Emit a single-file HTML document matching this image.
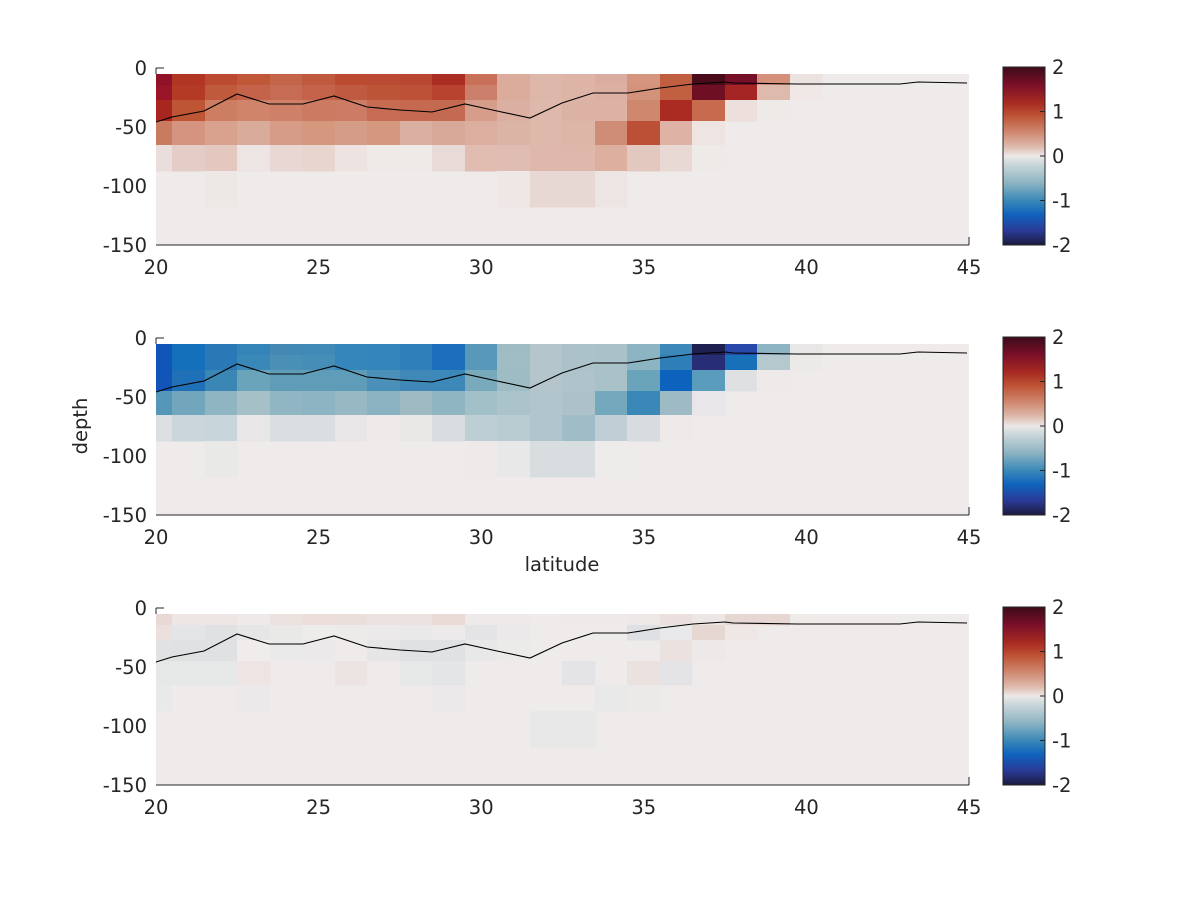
<!DOCTYPE html>
<html><head><meta charset="utf-8">
<style>
body{margin:0;background:#fff;}
svg text{font-family:"DejaVu Sans","Liberation Sans",sans-serif;font-size:19.5px;fill:#262626;}
</style></head><body>
<svg id="s" width="1200" height="900" xmlns="http://www.w3.org/2000/svg">
<defs>
<linearGradient id="cb" x1="0" y1="0" x2="0" y2="1">
<stop offset="0" stop-color="#3d0b1a"/>
<stop offset="0.1" stop-color="#7a0f28"/>
<stop offset="0.2" stop-color="#a82a22"/>
<stop offset="0.27" stop-color="#bd5132"/>
<stop offset="0.37" stop-color="#d08a72"/>
<stop offset="0.45" stop-color="#dfbcb0"/>
<stop offset="0.5" stop-color="#ece8e7"/>
<stop offset="0.56" stop-color="#c2d2d7"/>
<stop offset="0.65" stop-color="#8db4c2"/>
<stop offset="0.75" stop-color="#3a88b8"/>
<stop offset="0.83" stop-color="#0f62bd"/>
<stop offset="0.92" stop-color="#2a3a96"/>
<stop offset="1" stop-color="#1b1b3e"/>
</linearGradient>
</defs>
</svg>
<script>
const NS="http://www.w3.org/2000/svg",S=document.getElementById('s');
function el(t,a,txt){const e=document.createElementNS(NS,t);for(const k in a)e.setAttribute(k,a[k]);if(txt!==undefined)e.textContent=txt;S.appendChild(e);return e;}
const BG="#efebea";
const cx=[156,172,205,237,270,302,335,367,400,432,465,497,530,562,595,627,660,692,725,757,790,822];
const ry=[74,85,100,121,145,171,207,245];
const P1=[
["#8f1228","#b03522","#bb4a30","#c05838","#c4654a","#c05a3e","#bb4a30","#ba4a33","#b84731","#ab2c22","#c87058","#dbab9c","#ddb7aa","#ddb4a6","#dbada0","#d5957e","#c05e40","#4a0c1a","#751028","#d4907a","#ece3e1"],
["#9a1528","#b33b25","#c05a3c","#c4624a","#c66c55","#c4624a","#c05a40","#bc5538","#bc5138","#b8432e","#cc7f6a","#dbab9c","#ddb7aa","#ddb4a6","#dcb0a2","#d3927a","#c06040","#6e0f24","#a52424","#ddbaac","#efe8e6"],
["#a82620","#be5535","#cd7e62","#d0846a","#cf8068","#cc7b62","#cc7c64","#c76c52","#c56a50","#c46a50","#d69e8a","#dbb0a2","#deb9ab","#dcb2a4","#ddb1a3","#ce886e","#ab2a22","#c86a4e","#ecdfdc","#eeeae8",BG],
["#c97b60","#d49480","#d8a28f","#d8ab9a","#d69c88","#d5987f","#d59c88","#d4987f","#dab0a2","#d8a898","#dbaea0","#dcb4a6","#deb8aa","#ddb6a8","#cf8c76","#bb5036","#dfb2a6","#eee5e3",BG,BG,BG],
["#eadedc","#e4cdc6","#e4c8bf","#ede5e3","#e8d7d3","#e8d5d0","#ede4e2","#eeeae8","#eeeae8","#e8dad6","#e0bcb1","#e0bdb2","#dfb8ab","#dfb8ab","#dcaf9e","#e3c8bf","#e8d9d5","#eeeae8",BG,BG,BG],
{2:"#ede8e5",11:"#eee7e6",12:"#e8d8d4",13:"#e8d8d4",14:"#ede5e3"},
{}];
const P2=[
["#1155b8","#1470ba","#2a78b6","#3584b8","#4489b4","#418ab7","#3586ba","#3384ba","#2f80b8","#1c70bb","#5898b8","#9fbcc4","#b4c6cc","#abc2c8","#a9c1c8","#8db4c2","#3c88b8","#1e2050","#2848aa","#8db4c2","#e8e6e6"],
["#1155b8","#1470ba","#2a78b6","#3a88b8","#4a8fb6","#468db7","#3586ba","#3384ba","#2f80b8","#1c70bb","#5898b8","#a0bcc4","#b4c6cc","#abc2c8","#a9c1c8","#8db4c2","#2e7eb8","#282e76","#1770b8","#b4c8ce","#ece9e9"],
["#1155b8","#2070b8","#3a86b4","#6aa4ba","#5e9cb8","#5e9cb8","#5e9cb8","#4a90b8","#3f88b8","#3c88b8","#79aabc","#9ebcc4","#b4c6cc","#aec4ca","#a8c2c8","#6aa4ba","#0c62bc","#5a9cbc","#dfe0e2","#eeeaea",BG],
["#5696b8","#71a6bc","#8fb4c2","#a6c0c8","#8fb6c2","#8db4c2","#98b8c4","#8bb2c0","#a0bac4","#8fb4c2","#a2c0c8","#abc4ca","#b0c6cc","#acc2c8","#74a8bc","#3a88b8","#9ebac4","#e8e6e8",BG,BG,BG],
["#dcdfe1","#cbd5dc","#c8d5da","#e8e6e7","#d9dee1","#d9dee1","#e8e6e7","#eeeae9","#eae8e6","#d9dde0","#bdcfd4","#b9ccd2","#b0c6cc","#a0bcc6","#bfcfd5","#d6dcdf","#eeeaea",BG,BG,BG,BG],
{2:"#e9e9e8",10:"#edeae9",11:"#e9e8e8",12:"#d8dde0",13:"#d8dde0",14:"#eeebeb"},
{}];
const P3=[
["#ead8d4","#eee6e4","#ede6e5","#eeeae9","#ece2e0","#ebdedb","#ebdfdc","#ece2e0","#ece2e0","#e9dad6","#eeeae9","#eeeae9",BG,"#eeeae9","#eeeae9","#eee8e7","#ebe0de","#ece6e5","#e7d7d3","#e7d7d3","#eeebe9"],
{0:"#ece0de",1:"#e4e5e7",2:"#dfe1e3",3:"#e6e6e7",4:"#e9e9e8",5:"#eeecea",6:"#ecebea",7:"#ebe9e9",8:"#e9e9e9",9:"#eceaea",10:"#e4e4e6",11:"#ebe9e9",15:"#dfe0e3",16:"#e9e8ea",17:"#e7d7d3",18:"#eee7e5"},
{0:"#e0e2e4",1:"#dfe1e3",2:"#dfe1e3",3:"#f0eceb",4:"#eaeaea",5:"#ebe9e9",7:"#e6e6e7",8:"#dfe1e3",9:"#dfe1e3",10:"#e8e8e9",11:"#ebebea",16:"#ebe1df",17:"#ece9e8"},
{0:"#e6e8e7",1:"#e6e8e7",2:"#e6e8e7",3:"#ede4e3",6:"#ece4e3",8:"#e6e7e7",9:"#e4e5e7",13:"#e4e4e6",15:"#ebe1df",16:"#e4e4e6"},
{0:"#e8e9e9",3:"#ebe9e9",9:"#ebe9e9",14:"#e8e9e8",15:"#ebeae9"},
{12:"#e9e8e8",13:"#e7e8e7"},
{}];
const line=[[156,122],[172,117],[204,111],[237,94],[269,104],[303,104],[334,96],[367,107],[400,110],[432,112],[465,104],[497,111],[530,118],[562,103],[593,93],[628,93],[660,88],[693,84],[725,82],[733,83],[797,84],[900,84],[918,82],[967,83]];
function panel(P,off){
  el('rect',{x:156,y:ry[0]+off,width:813,height:245-ry[0],fill:BG});
  for(let r=0;r<7;r++){const row=P[r];
    for(let c=0;c<21;c++){const col=row[c];if(!col||col===BG)continue;
      el('rect',{x:cx[c],y:ry[r]+off,width:cx[c+1]-cx[c]+0.5,height:ry[r+1]-ry[r]+0.5,fill:col});}}
  el('polyline',{points:line.map(p=>p[0]+','+(p[1]+off)).join(' '),fill:'none',stroke:'#000','stroke-width':1.1});
  el('line',{x1:156,y1:245+off,x2:969,y2:245+off,stroke:'#262626','stroke-width':1});
  el('line',{x1:156,y1:68+off,x2:164,y2:68+off,stroke:'#262626','stroke-width':1});
  el('line',{x1:156,y1:68+off,x2:156,y2:74+off,stroke:'#262626','stroke-width':1});
  el('line',{x1:969,y1:237+off,x2:969,y2:245+off,stroke:'#262626','stroke-width':1});
  [[0,68],[-50,127],[-100,186],[-150,245]].forEach(([v,y])=>el('text',{x:147,y:y+off+7,'text-anchor':'end'},v));
  [20,25,30,35,40,45].forEach(v=>el('text',{x:156+(v-20)*32.52,y:274+off,'text-anchor':'middle'},v));
  el('rect',{x:1003,y:67+off,width:42,height:178,fill:'url(#cb)',stroke:'#262626','stroke-width':1});
  [[2,67],[1,111.5],[0,156],[-1,200.5],[-2,245]].forEach(([v,y])=>{
    el('line',{x1:1040,y1:y+off,x2:1045,y2:y+off,stroke:'#262626'});
    el('text',{x:1052,y:y+off+7},v);});
}
panel(P1,0);panel(P2,270);panel(P3,540);
el('text',{x:562,y:571,'text-anchor':'middle','font-size':'22'},'latitude');
el('text',{x:87,y:426,'text-anchor':'middle',transform:'rotate(-90 87 426)','font-size':'22'},'depth');
</script>
</body></html>
